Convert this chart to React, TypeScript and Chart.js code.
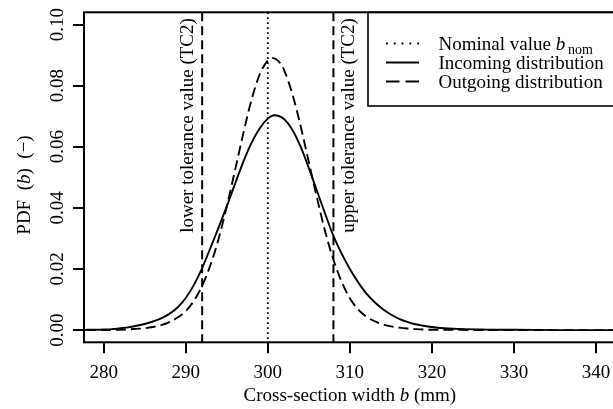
import React, { useEffect, useRef } from "react";
import { Chart, registerables } from "chart.js";

Chart.register(...registerables);

// ---- data ----
const xTicks = [280, 290, 300, 310, 320, 330, 340];
const yTicks = [0, 0.02, 0.04, 0.06, 0.08, 0.1];
const yTickLabels = ["0.00", "0.02", "0.04", "0.06", "0.08", "0.10"];
const nominalValue = 300;
const toleranceValues = [292, 308];
const toleranceLabels = ["lower tolerance value (TC2)", "upper tolerance value (TC2)"];
const seriesNames = ["Nominal value", "Incoming distribution", "Outgoing distribution"];

const incomingX = [276, 277, 278, 279, 280, 281, 282, 283, 284, 285, 286, 287, 288, 289, 290, 291, 292, 293, 294, 295, 296, 297, 298, 299, 300, 300.8, 302, 303, 304, 305, 306, 307, 308, 309, 310, 311, 312, 313, 314, 315, 316, 317, 318, 319, 320, 321, 322, 323, 324, 326, 328, 330, 335, 340, 344];
const incomingY = [0, 0, 0.0001, 0.0001, 0.0002, 0.0003, 0.0006, 0.0009, 0.0014, 0.002, 0.0028, 0.0038, 0.0053, 0.0074, 0.0105, 0.0148, 0.0203, 0.0268, 0.0335, 0.0405, 0.0478, 0.055, 0.0612, 0.066, 0.0692, 0.0703, 0.069, 0.0655, 0.06, 0.053, 0.0455, 0.038, 0.0308, 0.025, 0.02, 0.0157, 0.012, 0.0092, 0.0069, 0.0051, 0.0037, 0.0027, 0.0019, 0.0014, 0.001, 0.0007, 0.0005, 0.0004, 0.0003, 0.0002, 0.0001, 0.0001, 0, 0, 0];

const outgoingX = [276, 280, 282, 283, 284, 285, 286, 287, 288, 289, 290, 291, 292, 293, 294, 295, 296, 297, 298, 299, 300, 300.6, 301.5, 302, 303, 304, 305, 306, 307, 308, 309, 310, 311, 312, 313, 314, 315, 316, 317, 318, 319, 320, 322, 325, 344];
const outgoingY = [0, 0, 0.0001, 0.0002, 0.0004, 0.0006, 0.001, 0.0016, 0.0026, 0.0041, 0.0062, 0.0096, 0.0145, 0.0212, 0.0298, 0.0405, 0.0522, 0.0642, 0.0752, 0.0836, 0.0882, 0.089, 0.0874, 0.085, 0.0772, 0.0668, 0.055, 0.0432, 0.0322, 0.023, 0.0158, 0.0104, 0.0068, 0.0044, 0.0029, 0.0019, 0.0012, 0.0008, 0.0005, 0.0003, 0.0002, 0.0001, 0.0001, 0, 0];

const SERIF = '"Liberation Serif", "Times New Roman", serif';
const FS = 19;
const F = (size: number, italic = false) => `${italic ? "italic " : ""}${size}px ${SERIF}`;

type Part = { t: string; font: string; dy?: number };

function drawParts(ctx: CanvasRenderingContext2D, parts: Part[], x: number, y: number, align: "left" | "center") {
  ctx.textAlign = "left";
  ctx.textBaseline = "alphabetic";
  let total = 0;
  const widths = parts.map((p) => {
    ctx.font = p.font;
    const w = ctx.measureText(p.t).width;
    total += w;
    return w;
  });
  let cx = align === "center" ? x - total / 2 : x;
  parts.forEach((p, i) => {
    ctx.font = p.font;
    ctx.fillText(p.t, cx, y + (p.dy || 0));
    cx += widths[i];
  });
}

function drawRotated(ctx: CanvasRenderingContext2D, parts: Part[], x: number, y: number) {
  ctx.save();
  ctx.translate(x, y);
  ctx.rotate(-Math.PI / 2);
  drawParts(ctx, parts, 0, 0, "center");
  ctx.restore();
}

function seg(ctx: CanvasRenderingContext2D, x1: number, y1: number, x2: number, y2: number) {
  ctx.beginPath();
  ctx.moveTo(x1, y1);
  ctx.lineTo(x2, y2);
  ctx.stroke();
}

const decor = {
  id: "decor",
  afterDatasetsDraw(chart: any) {
    const { ctx, chartArea: a, scales } = chart;
    const xs = scales.x;
    const ys = scales.y;
    ctx.save();
    ctx.fillStyle = "#000";
    ctx.strokeStyle = "#000";

    // reference lines
    ctx.save();
    ctx.beginPath();
    ctx.rect(a.left, a.top, a.right - a.left, a.bottom - a.top);
    ctx.clip();
    ctx.lineWidth = 1.8;
    ctx.setLineDash([1.8, 3.2]);
    const xn = xs.getPixelForValue(nominalValue);
    seg(ctx, xn, a.top, xn, a.bottom);
    ctx.setLineDash([9, 5]);
    ctx.lineWidth = 2;
    toleranceValues.forEach((v) => {
      const px = xs.getPixelForValue(v);
      seg(ctx, px, a.top, px, a.bottom);
    });
    ctx.restore();

    // box
    ctx.lineWidth = 2;
    ctx.setLineDash([]);
    ctx.strokeRect(a.left, a.top, a.right - a.left, a.bottom - a.top);

    // tick labels
    xTicks.forEach((v) => {
      drawParts(ctx, [{ t: String(v), font: F(FS) }], xs.getPixelForValue(v), 378, "center");
    });
    yTicks.forEach((v, i) => {
      drawRotated(ctx, [{ t: yTickLabels[i], font: F(FS) }], 62.5, ys.getPixelForValue(v));
    });

    // axis titles
    drawParts(
      ctx,
      [
        { t: "Cross-section width ", font: F(FS) },
        { t: "b", font: F(FS, true) },
        { t: " (mm)", font: F(FS) },
      ],
      (a.left + a.right) / 2,
      401,
      "center"
    );
    drawRotated(
      ctx,
      [
        { t: "PDF\u2002(", font: F(FS) },
        { t: "b", font: F(FS, true) },
        { t: ")\u2002(\u2212)", font: F(FS) },
      ],
      30,
      185
    );

    // tolerance annotations
    const lx = xs.getPixelForValue(toleranceValues[0]);
    const ux = xs.getPixelForValue(toleranceValues[1]);
    drawRotated(ctx, [{ t: toleranceLabels[0], font: F(FS) }], lx - 9.5, 125.5);
    drawRotated(ctx, [{ t: toleranceLabels[1], font: F(FS) }], ux + 21, 125.5);

    // legend
    const lgLeft = 368;
    const lgTop = a.top;
    const lgBottom = 106;
    ctx.lineWidth = 1.6;
    ctx.strokeRect(lgLeft, lgTop, 700 - lgLeft, lgBottom - lgTop);
    const sx1 = 386;
    const sx2 = 419;
    const tx = 438.5;
    const base = [49.5, 68.5, 87.5];
    ctx.lineWidth = 1.8;
    ctx.setLineDash([1.8, 6]);
    seg(ctx, sx1, base[0] - 6, sx2, base[0] - 6);
    ctx.setLineDash([]);
    seg(ctx, sx1, base[1] - 6, sx2, base[1] - 6);
    ctx.setLineDash([13.5, 6]);
    seg(ctx, sx1, base[2] - 6, sx2, base[2] - 6);
    ctx.setLineDash([]);
    drawParts(
      ctx,
      [
        { t: seriesNames[0] + " ", font: F(FS) },
        { t: "b", font: F(FS, true) },
        { t: "\u2009nom", font: F(14), dy: 4 },
      ],
      tx,
      base[0],
      "left"
    );
    drawParts(ctx, [{ t: seriesNames[1], font: F(FS) }], tx, base[1], "left");
    drawParts(ctx, [{ t: seriesNames[2], font: F(FS) }], tx, base[2], "left");

    ctx.restore();
  },
};

export default function App() {
  const ref = useRef<HTMLCanvasElement | null>(null);
  useEffect(() => {
    if (!ref.current) return;
    const chart = new Chart(ref.current, {
      type: "line",
      data: {
        datasets: [
          {
            label: seriesNames[1],
            data: incomingX.map((x, i) => ({ x, y: incomingY[i] })),
            borderColor: "#000",
            borderWidth: 1.9,
            pointRadius: 0,
            cubicInterpolationMode: "monotone",
            fill: false,
          },
          {
            label: seriesNames[2],
            data: outgoingX.map((x, i) => ({ x, y: outgoingY[i] })),
            borderColor: "#000",
            borderWidth: 1.9,
            borderDash: [10, 5],
            pointRadius: 0,
            cubicInterpolationMode: "monotone",
            fill: false,
          },
        ],
      },
      options: {
        animation: false,
        responsive: false,
        devicePixelRatio: 1,
        layout: { padding: { top: 12.3, right: 4.3, left: 0, bottom: 0 } },
        plugins: { legend: { display: false }, tooltip: { enabled: false } },
        scales: {
          x: {
            type: "linear",
            min: 277.6,
            max: 342.4,
            afterBuildTicks: (s: any) => {
              s.ticks = xTicks.map((v) => ({ value: v }));
            },
            afterFit: (s: any) => {
              s.height = 66.7;
            },
            ticks: { display: false },
            border: { display: false },
            grid: { drawOnChartArea: false, drawTicks: true, tickLength: 11, color: "#000", lineWidth: 2 },
          },
          y: {
            type: "linear",
            min: -0.004,
            max: 0.104,
            afterBuildTicks: (s: any) => {
              s.ticks = yTicks.map((v) => ({ value: v }));
            },
            afterFit: (s: any) => {
              s.width = 84;
            },
            ticks: { display: false },
            border: { display: false },
            grid: { drawOnChartArea: false, drawTicks: true, tickLength: 11, color: "#000", lineWidth: 2 },
          },
        },
      },
      plugins: [decor],
    } as any);
    return () => chart.destroy();
  }, []);
  return (
    <div style={{ position: "fixed", left: 0, top: 0, width: 620, height: 409, background: "#fff" }}>
      <canvas ref={ref} width={620} height={409} style={{ width: 620, height: 409, display: "block" }} />
    </div>
  );
}
